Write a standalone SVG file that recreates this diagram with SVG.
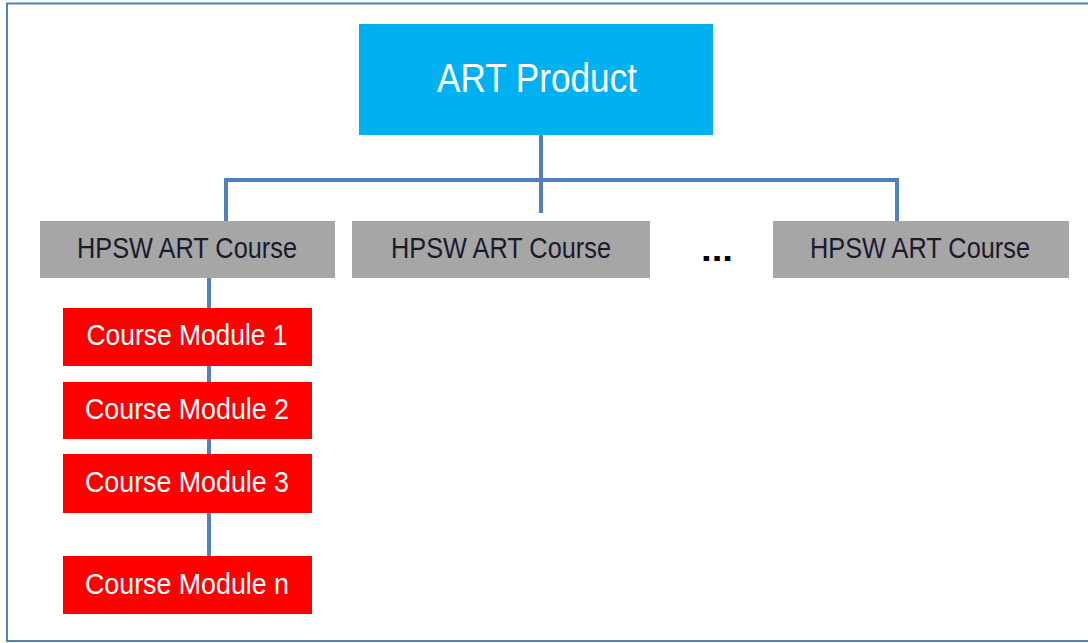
<svg xmlns="http://www.w3.org/2000/svg" width="1088" height="643" viewBox="0 0 1088 643">
<style>
.t{font-family:"Liberation Sans","Arial",sans-serif;text-anchor:middle}
.gray{fill:#A6A6A6}
.red{fill:#FF0000}
.gt{fill:#1a1a2e;font-size:29px}
.rt{fill:#FFFFFF;font-size:29px}
.conn{stroke:#4F81BD;stroke-width:4;fill:none}
</style>
<rect x="0" y="0" width="1088" height="643" fill="#FFFFFF"/>
<rect x="7" y="3.5" width="1100" height="637.5" fill="none" stroke="#4F81BD" stroke-width="2"/>
<g id="connectors">
<path class="conn" d="M541 135 V213"/>
<path class="conn" d="M226 221 V180 H897 V221"/>
<path class="conn" d="M209 278 V556"/>
</g>
<g id="art-product">
<rect x="359" y="24" width="354" height="111" fill="#00B0F0"/>
<text class="t" x="537" y="92" font-size="41" fill="#FFFFFF" textLength="200" lengthAdjust="spacingAndGlyphs">ART Product</text>
</g>
<g id="course-1">
<rect class="gray" x="40" y="221" width="295" height="57"/>
<text class="t gt" x="187" y="258" textLength="220" lengthAdjust="spacingAndGlyphs">HPSW ART Course</text>
</g>
<g id="course-2">
<rect class="gray" x="352" y="221" width="298" height="57"/>
<text class="t gt" x="501" y="258" textLength="220" lengthAdjust="spacingAndGlyphs">HPSW ART Course</text>
</g>
<g id="ellipsis">
<text class="t" x="717" y="261" font-size="34" font-weight="bold" fill="#000000" textLength="32" lengthAdjust="spacingAndGlyphs">...</text>
</g>
<g id="course-3">
<rect class="gray" x="773" y="221" width="296" height="57"/>
<text class="t gt" x="920" y="258" textLength="220" lengthAdjust="spacingAndGlyphs">HPSW ART Course</text>
</g>
<g id="module-1">
<rect class="red" x="63" y="308" width="249" height="58"/>
<text class="t rt" x="187" y="345" textLength="201" lengthAdjust="spacingAndGlyphs">Course Module 1</text>
</g>
<g id="module-2">
<rect class="red" x="63" y="382" width="249" height="57"/>
<text class="t rt" x="187" y="419" textLength="204" lengthAdjust="spacingAndGlyphs">Course Module 2</text>
</g>
<g id="module-3">
<rect class="red" x="63" y="454" width="249" height="59"/>
<text class="t rt" x="187" y="492" textLength="204" lengthAdjust="spacingAndGlyphs">Course Module 3</text>
</g>
<g id="module-n">
<rect class="red" x="63" y="556" width="249" height="58"/>
<text class="t rt" x="187" y="594" textLength="204" lengthAdjust="spacingAndGlyphs">Course Module n</text>
</g>
</svg>
